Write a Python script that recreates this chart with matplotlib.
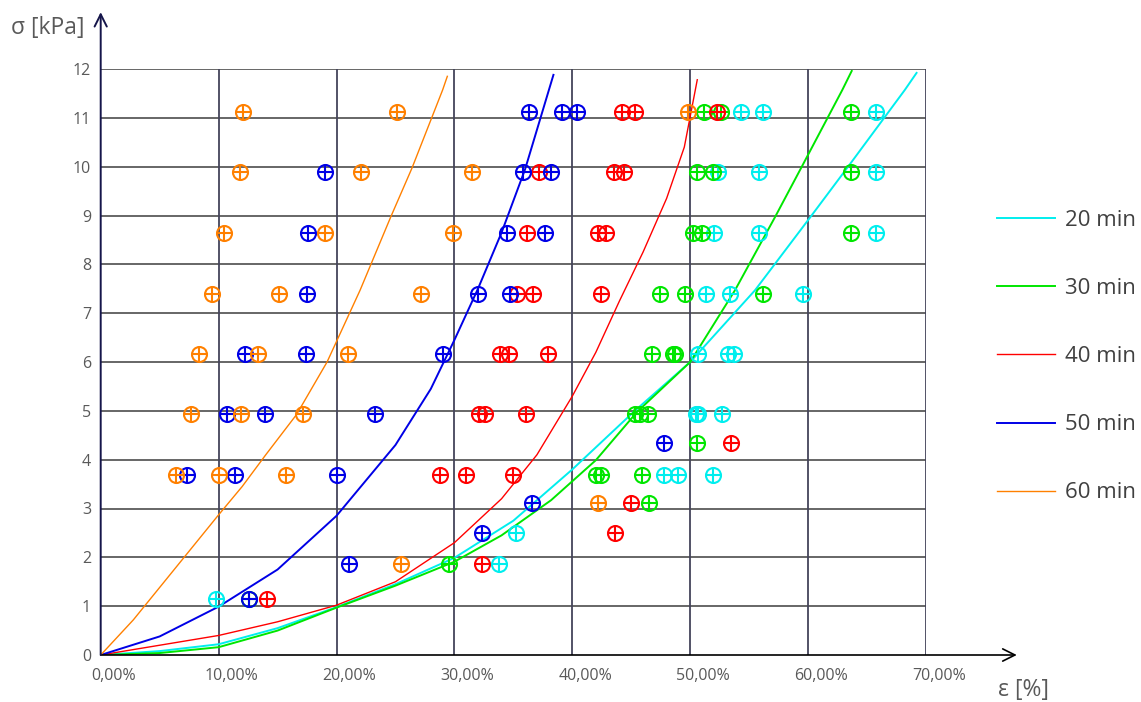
import matplotlib
matplotlib.use("Agg")
import matplotlib.pyplot as plt
import matplotlib.transforms as mtransforms
from matplotlib.ticker import FuncFormatter

plt.rcParams['font.family'] = ['Open Sans', 'DejaVu Sans']

# ---------------- data ----------------
series_names = ["20 min", "30 min", "40 min", "50 min", "60 min"]
series_colors = ["#00EEEE", "#00E600", "#FF0000", "#0000E6", "#FF8000"]
line_widths = [1.4, 1.4, 1.0, 1.4, 1.0]

# measured points (strain in %, stress in kPa)
eps_20 = [9.8, 33.8, 35.2, 47.8, 49.0, 51.9, 50.5, 50.7, 52.7, 50.7, 53.2, 53.7,
          51.3, 53.4, 59.6, 52.0, 55.8, 65.8, 52.4, 55.8, 65.8, 54.3, 56.2, 65.8]
sig_20 = [1.15, 1.86, 2.49, 3.69, 3.69, 3.69, 4.94, 4.94, 4.94, 6.16, 6.16, 6.16,
          7.40, 7.40, 7.40, 8.64, 8.64, 8.64, 9.89, 9.89, 9.89, 11.12, 11.12, 11.12]

eps_30 = [12.6, 29.5, 46.5, 42.0, 42.4, 45.9, 50.6, 45.3, 45.7, 46.4, 46.8, 48.5, 48.7,
          47.4, 49.6, 56.2, 50.2, 51.0, 63.6, 50.6, 51.9, 63.6, 51.2, 52.6, 63.6]
sig_30 = [1.15, 1.86, 3.12, 3.69, 3.69, 3.69, 4.34, 4.94, 4.94, 4.94, 6.16, 6.16, 6.16,
          7.40, 7.40, 7.40, 8.64, 8.64, 8.64, 9.89, 9.89, 9.89, 11.12, 11.12, 11.12]

eps_40 = [14.1, 32.3, 43.6, 45.0, 28.8, 31.0, 35.0, 53.5, 32.1, 32.6, 36.1, 33.9, 34.6, 37.9,
          35.3, 36.7, 42.4, 36.2, 42.2, 42.9, 37.2, 43.5, 44.4, 44.2, 45.3, 52.3]
sig_40 = [1.15, 1.86, 2.49, 3.12, 3.69, 3.69, 3.69, 4.34, 4.94, 4.94, 4.94, 6.16, 6.16, 6.16,
          7.40, 7.40, 7.40, 8.64, 8.64, 8.64, 9.89, 9.89, 9.89, 11.12, 11.12, 11.12]

eps_50 = [12.6, 21.1, 32.3, 36.6, 7.3, 11.4, 20.0, 47.8, 10.7, 13.9, 23.3, 12.2, 17.4, 29.0,
          17.5, 32.0, 34.7, 17.6, 34.5, 37.7, 19.0, 35.8, 38.2, 36.3, 39.1, 40.4]
sig_50 = [1.15, 1.86, 2.49, 3.12, 3.69, 3.69, 3.69, 4.34, 4.94, 4.94, 4.94, 6.16, 6.16, 6.16,
          7.40, 7.40, 7.40, 8.64, 8.64, 8.64, 9.89, 9.89, 9.89, 11.12, 11.12, 11.12]

eps_60 = [25.5, 42.2, 6.4, 10.0, 15.7, 7.7, 11.9, 17.2, 8.3, 13.3, 21.0,
          9.4, 15.1, 27.2, 10.5, 19.0, 29.9, 11.8, 22.1, 31.5, 12.1, 25.1, 49.8]
sig_60 = [1.86, 3.12, 3.69, 3.69, 3.69, 4.94, 4.94, 4.94, 6.16, 6.16, 6.16,
          7.40, 7.40, 7.40, 8.64, 8.64, 8.64, 9.89, 9.89, 9.89, 11.12, 11.12, 11.12]

# fitted curves
curve_eps_20 = [0, 5, 10, 15, 20, 25, 30, 35, 40, 45.3, 50.0, 55.5, 60.2, 63.3, 68.2, 69.2]
curve_sig_20 = [0, 0.08, 0.22, 0.55, 0.98, 1.45, 1.99, 2.75, 3.80, 5.0, 6.0, 7.47, 8.97, 9.97, 11.57, 11.92]

curve_eps_30 = [0, 5, 10, 15, 20, 25, 30, 34, 38.2, 42.0, 45.5, 50.0, 53.8, 57.2, 59.4, 62.9, 63.7]
curve_sig_30 = [0, 0.04, 0.16, 0.50, 0.97, 1.42, 1.91, 2.45, 3.17, 3.99, 4.98, 6.0, 7.47, 8.97, 9.97, 11.57, 11.96]

curve_eps_40 = [0, 5, 10, 15, 20, 25, 30, 34, 37, 40, 42, 44, 46, 48, 49.5, 50.6]
curve_sig_40 = [0, 0.2, 0.40, 0.68, 1.02, 1.50, 2.30, 3.20, 4.10, 5.30, 6.20, 7.25, 8.25, 9.35, 10.4, 11.78]

curve_eps_50 = [0, 5, 10, 15, 20, 25, 28, 30, 32, 34, 36, 38.4]
curve_sig_50 = [0, 0.38, 0.99, 1.75, 2.85, 4.30, 5.45, 6.45, 7.50, 8.65, 9.95, 11.88]

curve_eps_60 = [0, 2.77, 10, 12, 14, 16.6, 19.2, 22.0, 24.6, 26.4, 29.0, 29.4]
curve_sig_60 = [0, 0.72, 2.87, 3.45, 4.10, 4.92, 6.0, 7.47, 8.97, 9.97, 11.57, 11.85]

x_ticks = [0, 10, 20, 30, 40, 50, 60, 70]
y_ticks = list(range(0, 13))

points = [(eps_20, sig_20), (eps_30, sig_30), (eps_40, sig_40), (eps_50, sig_50), (eps_60, sig_60)]
curves = [(curve_eps_20, curve_sig_20), (curve_eps_30, curve_sig_30), (curve_eps_40, curve_sig_40),
          (curve_eps_50, curve_sig_50), (curve_eps_60, curve_sig_60)]

# ---------------- figure ----------------
W, H = 1141, 702
fig = plt.figure(figsize=(W / 100, H / 100), dpi=100)
x0, x1 = 100.7, 926.0
y0, y1 = 655.0, 69.0
ax = fig.add_axes([x0 / W, 1 - y0 / H, (x1 - x0) / W, (y0 - y1) / H])
ax.set_xlim(0, 70)
ax.set_ylim(0, 12)

for s in ax.spines.values():
    s.set_visible(False)

grid_col = "#5a5a5a"
for yv in y_ticks[1:]:
    ax.axhline(yv, color=grid_col, lw=1.3, zorder=1)
for xv in x_ticks[1:]:
    ax.axvline(xv, color="#44445a", lw=1.3, zorder=1)

ax.set_xticks(x_ticks)
ax.set_yticks(y_ticks)
ax.xaxis.set_major_formatter(FuncFormatter(lambda v, p: f"{v:.2f}%".replace('.', ',')))
ax.tick_params(axis='both', length=0, labelsize=11.5, colors="#595959")
ax.tick_params(axis='x', pad=9)
ax.tick_params(axis='y', pad=7)
offset = mtransforms.ScaledTranslation(13 / 100, 0, fig.dpi_scale_trans)
for lbl in ax.get_xticklabels():
    lbl.set_transform(lbl.get_transform() + offset)

# curves
handles = []
for (ce, cs), col, lw, name in zip(curves, series_colors, line_widths, series_names):
    h, = ax.plot(ce, cs, color=col, lw=lw, zorder=3, label=name,
                 solid_joinstyle='round')
    handles.append(h)

# points: circle with a cross
for (pe, ps), col in zip(points, series_colors):
    ax.plot(pe, ps, ls='none', marker='o', ms=10.8, mfc='none', mec=col, mew=1.5, zorder=4)
    ax.plot(pe, ps, ls='none', marker='+', ms=10.8, mec=col, mew=1.5, zorder=4)

# axes arrows
axis_col = "#15154a"
ax.annotate('', xy=(1.110, 0), xytext=(0, 0), xycoords='axes fraction',
            arrowprops=dict(arrowstyle='->', color='black', lw=1.2, mutation_scale=22,
                            shrinkA=0, shrinkB=0), annotation_clip=False, zorder=5)
ax.annotate('', xy=(0, 1.097), xytext=(0, 0), xycoords='axes fraction',
            arrowprops=dict(arrowstyle='->', color=axis_col, lw=1.4, mutation_scale=22,
                            shrinkA=0, shrinkB=0), annotation_clip=False, zorder=5)

fig.text(11 / W, 1 - 28 / H, "σ [kPa]", fontsize=16.5, color="#595959", va='center', ha='left')
fig.text(998 / W, 1 - 690 / H, "ε [%]", fontsize=16.5, color="#595959", va='center', ha='left')

leg = fig.legend(handles=handles, loc='upper left', bbox_to_anchor=(997 / W, 1 - 210 / H),
                 frameon=False, fontsize=16, labelspacing=2.12, handlelength=2.6,
                 handletextpad=0.45, borderpad=0, borderaxespad=0)
for t in leg.get_texts():
    t.set_color("#404040")

fig.savefig("out.png", dpi=100)
